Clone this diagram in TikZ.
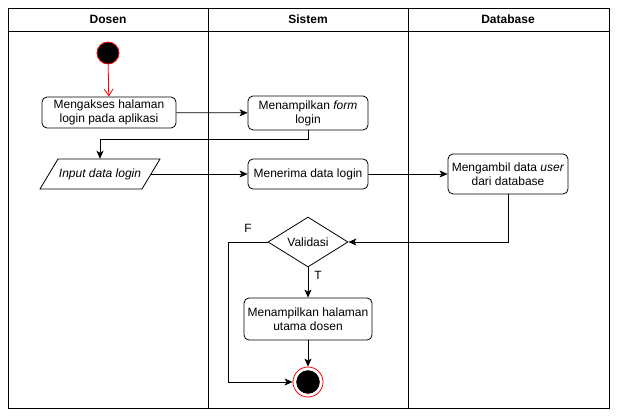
\documentclass[tikz,border=0pt]{standalone}
\usepackage{fontspec}
\setmainfont{Liberation Sans}
\usetikzlibrary{arrows.meta,shapes.geometric,calc}
\begin{document}
\begin{tikzpicture}[x=1pt,y=-1pt,
  every node/.style={font=\fontsize{12}{14}\selectfont},
  act/.style={draw,rounded corners=5pt,align=center,line width=0.8pt,inner sep=2pt},
  lane/.style={draw,line width=0.8pt},
  flow/.style={draw,line width=0.8pt,-{Stealth[length=8pt,width=7pt,inset=2pt]}},
  hdr/.style={font=\fontsize{12}{14}\selectfont\bfseries}]
\useasboundingbox (0,0) rectangle (617,417);
% swimlanes
\draw[lane] (8,8) rectangle (609,408);
\draw[lane] (8,31) -- (609,31);
\draw[lane] (208,8) -- (208,408);
\draw[lane] (408,8) -- (408,408);
\node[hdr] (h1) at (108,19.5) {Dosen};
\node[hdr] (h2) at (308,19.5) {Sistem};
\node[hdr] (h3) at (508,19.5) {Database};
% start
\node[circle,fill=black,draw=red,line width=0.8pt,minimum size=22pt,inner sep=0] (start) at (108,53) {};
% activities
\node[act,minimum width=134pt,minimum height=31pt] (a1) at (109,112.5) {Mengakses halaman\\login pada aplikasi};
\node[act,minimum width=120pt,minimum height=34pt] (a2) at (308,113) {Menampilkan \textit{form}\\login};
\node[minimum width=100pt,minimum height=30pt,inner sep=0] (inp) at (100,174) {\textit{Input data login}};
\draw[line width=0.8pt] ($(inp)+(-60,15)$) -- ($(inp)+(-42,-15)$) -- ($(inp)+(60,-15)$) -- ($(inp)+(42,15)$) -- cycle;
\coordinate (inpR) at ($(inp)+(51,0)$);
\node[act,minimum width=120pt,minimum height=30pt] (a3) at (308,174) {Menerima data login};
\node[act,minimum width=120pt,minimum height=40pt] (a4) at (508,174) {Mengambil data \textit{user}\\dari database};
\node[diamond,draw,line width=0.8pt,minimum width=80pt,minimum height=50pt,inner sep=0,aspect=1.6] (val) at (308,242) {Validasi};
\node[act,minimum width=128pt,minimum height=42pt] (a5) at (308,319) {Menampilkan halaman\\utama dosen};
% end
\node[circle,draw=red,line width=0.8pt,minimum size=30pt,inner sep=0] (end) at (308,382) {};
\node[circle,fill=black,draw=black,minimum size=23pt,inner sep=0] (endin) at (end) {};
% labels
\node (F) at (248,228) {F};
\node (T) at (318,275) {T};
% connectors
\draw[red,line width=0.8pt,-{Straight Barb[length=7pt,width=9pt]}] (start) -- (a1);
\draw[flow] (a1) -- (a2);
\draw[flow] (a2.south) |- ($(a2.south)+(0,9)$) -| (inp.north);
\draw[flow] (inpR) -- (inpR -| a3.west);
\draw[flow] (a3) -- (a4);
\draw[flow] (a4.south) |- (val.east);
\draw[flow] (val.south) -- (a5.north);
\draw[flow] (a5.south) -- (end.north);
\draw[flow] (val.west) -- (228,242) |- (end.west);
\end{tikzpicture}
\end{document}
